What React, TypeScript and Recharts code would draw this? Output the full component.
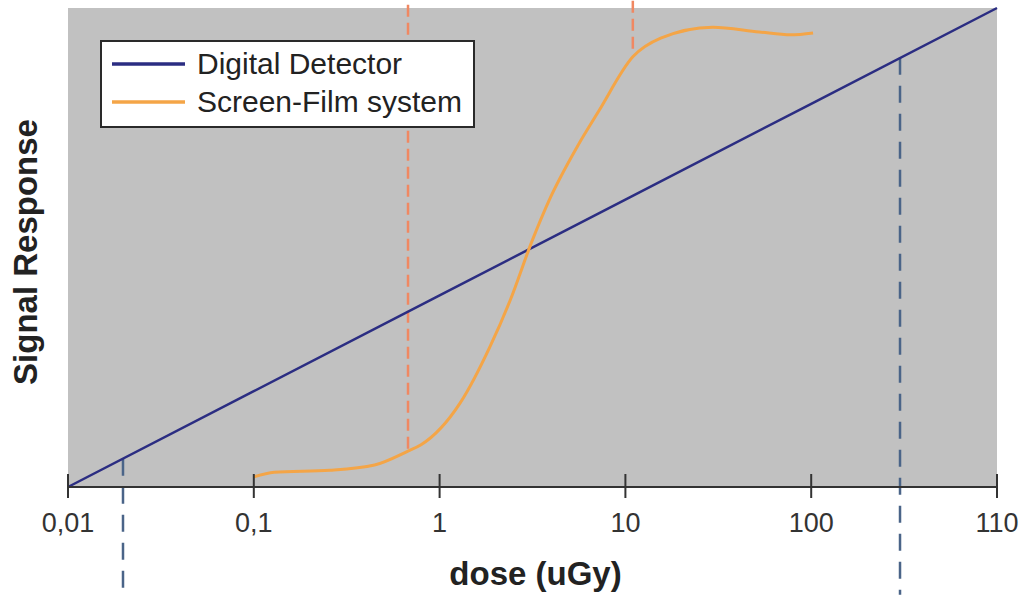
import { LineChart, Line, XAxis, YAxis, CartesianGrid, ReferenceLine, Legend } from 'recharts';

// x positions are decade slots: 0 -> 0,01 ... 4 -> 100, 5 -> 110
const doseTicks = [0, 1, 2, 3, 4, 5];
const doseLabels = ['0,01', '0,1', '1', '10', '100', '110'];

const digitalPos = [0, 1, 2, 3, 4, 5];
const digitalSignal = [0, 20, 40, 60, 80, 100];

const filmPos = [1.0, 1.11, 1.41, 1.65, 1.83, 1.9, 2.11, 2.27, 2.38, 2.5, 2.59, 2.74, 2.86, 3.04, 3.19, 3.47, 3.72, 3.89, 4.01];
const filmSignal = [2.1, 3.1, 3.5, 4.6, 7.5, 8.8, 17.5, 29.2, 39, 51.6, 59.9, 71, 78.7, 89.8, 93.7, 96, 95, 94.4, 94.8];

// dashed markers: [x position, y from, y to]
const filmMarkers = [
  [1.83, 8, 101.7],
  [3.04, 91.5, 101.7],
];
const digitalMarkers = [
  [0.296, 5.9, -22.5],
  [4.478, 89.6, -22.5],
];

const digitalData = digitalPos.map((p, i) => ({ p, v: digitalSignal[i] }));
const filmData = filmPos.map((p, i) => ({ p, v: filmSignal[i] }));

const AXIS = '#333';
const FONT = '"Liberation Sans", Arial, sans-serif';

function DoseTick({ x, y, payload }: any) {
  return (
    <g>
      <line x1={x} x2={x} y1={y - 13} y2={y + 11} stroke={AXIS} strokeWidth={2} />
      <text x={x} y={y + 45} textAnchor="middle" fill="#333" fontSize={27} fontFamily={FONT}>
        {doseLabels[doseTicks.indexOf(payload.value)]}
      </text>
    </g>
  );
}

// both axis titles are drawn here (the y axis has zero width)
function AxisTitles({ viewBox }: any) {
  return (
    <g fontFamily={FONT} fontSize={33} fontWeight="bold" fill="#222">
      <text x={viewBox.x + viewBox.width / 2 + 3} y={585} textAnchor="middle">
        dose (uGy)
      </text>
      <text x={37} y={252} transform="rotate(-90, 37, 252)" textAnchor="middle">
        Signal Response
      </text>
    </g>
  );
}

function LegendBox({ payload }: any) {
  return (
    <div
      style={{
        width: 375,
        height: 88,
        boxSizing: 'border-box',
        border: '2px solid #2a2a2a',
        background: '#fff',
        padding: '3px 0 0 10px',
        fontFamily: FONT,
      }}
    >
      {(payload || []).map((entry: any) => (
        <div key={entry.value} style={{ display: 'flex', alignItems: 'center', height: 38 }}>
          <svg width={73} height={38}>
            <line x1={0} x2={73} y1={19} y2={19} stroke={entry.color} strokeWidth={3.5} />
          </svg>
          <span style={{ marginLeft: 12, fontSize: 30, color: '#222', lineHeight: '38px' }}>{entry.value}</span>
        </div>
      ))}
    </div>
  );
}

export default function App() {
  return (
    <div>
      <style>{'body{margin:0}'}</style>
      <LineChart width={1028} height={595} margin={{ top: 8, right: 31, left: 68, bottom: 0 }}>
        <CartesianGrid fill="#c1c1c1" horizontal={false} vertical={false} />
        <XAxis
          type="number"
          dataKey="p"
          domain={[0, 5]}
          ticks={doseTicks}
          tick={DoseTick}
          tickLine={false}
          tickSize={0}
          tickMargin={0}
          height={108}
          axisLine={{ stroke: AXIS, strokeWidth: 2 }}
          label={{ content: AxisTitles }}
        />
        <YAxis
          type="number"
          domain={[0, 100]}
          width={0}
          tick={false}
          tickLine={false}
          axisLine={{ stroke: AXIS, strokeWidth: 2 }}
        />
        {filmMarkers.map(([p, y1, y2], i) => (
          <ReferenceLine
            key={`f${i}`}
            segment={[{ x: p, y: y1 }, { x: p, y: y2 }]}
            stroke="#f08862"
            strokeWidth={2.5}
            strokeDasharray="12 6"
            ifOverflow="visible"
          />
        ))}
        {digitalMarkers.map(([p, y1, y2], i) => (
          <ReferenceLine
            key={`d${i}`}
            segment={[{ x: p, y: y1 }, { x: p, y: y2 }]}
            stroke="#4a6488"
            strokeWidth={2.5}
            strokeDasharray="17 11"
            ifOverflow="visible"
          />
        ))}
        <Line
          data={digitalData}
          dataKey="v"
          name="Digital Detector"
          type="linear"
          stroke="#2b2d82"
          strokeWidth={2.5}
          dot={false}
          isAnimationActive={false}
        />
        <Line
          data={filmData}
          dataKey="v"
          name="Screen-Film system"
          type="monotone"
          stroke="#f4a547"
          strokeWidth={3}
          dot={false}
          isAnimationActive={false}
        />
        <Legend
          layout="horizontal"
          verticalAlign="middle"
          align="center"
          content={LegendBox}
          wrapperStyle={{ left: 100, top: 40, width: 375 }}
        />
      </LineChart>
    </div>
  );
}
